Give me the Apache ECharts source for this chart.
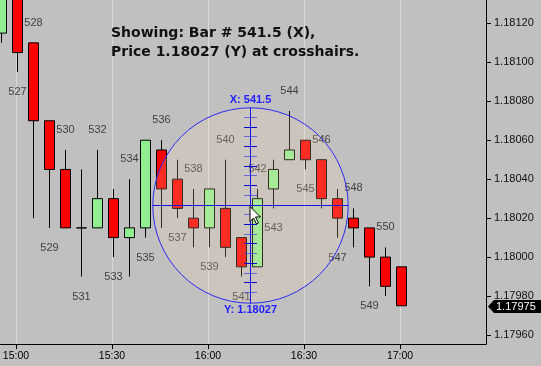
<!DOCTYPE html>
<html>
<head>
<meta charset="utf-8">
<script src="https://cdn.jsdelivr.net/npm/echarts@6/dist/echarts.min.js"></script>
<style>
  html, body { margin: 0; padding: 0; background: #c0c0c0; }
  #chart { width: 541px; height: 366px; }
</style>
</head>
<body>
<div id="chart"></div>
<script>
// ---- data ----
const bars   = [526, 527, 528, 529, 530, 531, 532, 533, 534, 535, 536, 537, 538, 539, 540, 541, 542, 543, 544, 545, 546, 547, 548, 549, 550, 551];
const opens  = [1.18115, 1.18140, 1.18110, 1.18070, 1.18045, 1.18015, 1.18015, 1.18030, 1.18010, 1.18015, 1.18055, 1.18040, 1.18020, 1.18015, 1.18025, 1.18010, 1.17995, 1.18035, 1.18050, 1.18060, 1.18050, 1.18030, 1.18020, 1.18015, 1.18000, 1.17995];
const closes = [1.18140, 1.18105, 1.18070, 1.18045, 1.18015, 1.18015, 1.18030, 1.18010, 1.18015, 1.18060, 1.18035, 1.18025, 1.18015, 1.18035, 1.18005, 1.17995, 1.18030, 1.18045, 1.18055, 1.18050, 1.18030, 1.18020, 1.18015, 1.18000, 1.17985, 1.17975];
const lows   = [1.18110, 1.18095, 1.18020, 1.18015, 1.18015, 1.17990, 1.18015, 1.18000, 1.17990, 1.18010, 1.18015, 1.18020, 1.18005, 1.18005, 1.18000, 1.17990, 1.17995, 1.18025, 1.18050, 1.18045, 1.18025, 1.18010, 1.18005, 1.17985, 1.17980, 1.17975];
const highs  = [1.18145, 1.18145, 1.18110, 1.18070, 1.18055, 1.18045, 1.18055, 1.18035, 1.18040, 1.18060, 1.18060, 1.18050, 1.18035, 1.18035, 1.18050, 1.18010, 1.18035, 1.18050, 1.18075, 1.18060, 1.18050, 1.18035, 1.18025, 1.18015, 1.18005, 1.17995];
const labeledBars = [527, 528, 529, 530, 531, 532, 533, 534, 535, 536, 537, 538, 539, 540, 541, 542, 543, 544, 545, 546, 547, 548, 549, 550];

const timeLabels = ['15:00', '15:30', '16:00', '16:30', '17:00'];
const barAtFirstTime = 526.906;   // bar position of 15:00
const barsPerTimeTick = 6;        // 5-minute bars, 30-minute ticks
const priceTicks = [1.1796, 1.1798, 1.1800, 1.1802, 1.1804, 1.1806, 1.1808, 1.1810, 1.1812];

const crossX = 541.5;
const crossY = 1.18027;
const rulerStep = 0.00005;

// ---- axis ranges ----
const xMin = 525.906, xMax = 556.28;
const yMin = 1.1795538, yMax = 1.181320;

const timeTickBars = timeLabels.map((t, i) => barAtFirstTime + i * barsPerTimeTick);

const candleData = bars.map((b, i) => [b, opens[i], closes[i], lows[i], highs[i]]);
const aboveLabels = [], belowLabels = [];
labeledBars.forEach(b => {
  const i = bars.indexOf(b);
  if (b % 2 === 0) aboveLabels.push([b, highs[i]]);
  else belowLabels.push([b, lows[i]]);
});
const lastPrice = closes[closes.length - 1];

const FONT = '"Liberation Sans", Arial, sans-serif';

const chart = echarts.init(document.getElementById('chart'), null, { renderer: 'canvas' });

function barLabelSeries(data, dy) {
  return {
    type: 'scatter',
    data: data,
    symbolSize: 0.1,
    itemStyle: { color: 'rgba(0,0,0,0)' },
    z: 3,
    silent: true,
    label: {
      show: true,
      position: 'inside',
      offset: [0, dy],
      formatter: p => String(p.value[0]),
      fontFamily: FONT,
      fontSize: 11,
      color: '#1c1c1c'
    }
  };
}

const option = {
  backgroundColor: '#c0c0c0',
  animation: false,
  title: {
    text: 'Showing: Bar # ' + crossX + ' (X),\nPrice ' + crossY.toFixed(5) + ' (Y) at crosshairs.',
    left: 111,
    top: 24,
    padding: 0,
    textStyle: {
      fontFamily: '"DejaVu Sans", Verdana, sans-serif',
      fontWeight: 'bold',
      fontSize: 14,
      lineHeight: 19,
      color: '#111'
    }
  },
  grid: { left: 0, right: 55, top: 0, bottom: 22, containLabel: false, outerBoundsMode: 'none' },
  xAxis: {
    type: 'value',
    min: xMin,
    max: xMax,
    position: 'bottom',
    axisLine: { show: true, onZero: false, lineStyle: { color: '#000', width: 1 } },
    axisTick: { show: true, length: 5, customValues: timeTickBars, lineStyle: { color: '#000' } },
    axisLabel: {
      show: true,
      customValues: timeTickBars,
      margin: 7,
      fontFamily: FONT,
      fontSize: 10.5,
      color: '#000',
      formatter: function (v) {
        let best = 0, bd = Infinity;
        timeTickBars.forEach((t, i) => { const d = Math.abs(t - v); if (d < bd) { bd = d; best = i; } });
        return timeLabels[best];
      }
    },
    splitLine: { show: true, lineStyle: { color: '#d9d9d9', width: 1 } }
  },
  yAxis: {
    type: 'value',
    position: 'right',
    min: yMin,
    max: yMax,
    axisLine: { show: true, onZero: false, lineStyle: { color: '#000', width: 1 } },
    axisTick: { show: true, length: 5, customValues: priceTicks, lineStyle: { color: '#000' } },
    axisLabel: {
      show: true,
      customValues: priceTicks,
      margin: 8,
      fontFamily: FONT,
      fontSize: 11,
      color: '#111',
      formatter: v => v.toFixed(5)
    },
    splitLine: { show: false }
  },
  series: [
    {
      type: 'candlestick',
      data: candleData,
      encode: { x: 0, y: [1, 2, 3, 4] },
      barWidth: 11,
      clip: true,
      z: 2,
      silent: true,
      itemStyle: {
        color: '#90ee90',
        color0: '#ff0000',
        borderColor: '#000',
        borderColor0: '#000',
        borderColorDoji: '#000',
        borderWidth: 1
      }
    },
    barLabelSeries(aboveLabels, -20),
    barLabelSeries(belowLabels, 20),
    {
      type: 'custom',
      data: [[crossX, crossY]],
      z: 10,
      silent: true,
      clip: false,
      renderItem: function (params, api) {
        const c = api.coord([api.value(0), api.value(1)]);
        const cx = Math.round(c[0]) + 0.5, cy = Math.round(c[1]) + 0.5;
        const r = 97.7;
        const blue = '#1414e6';
        const children = [];
        children.push({
          type: 'circle',
          shape: { cx: cx, cy: cy, r: r },
          style: { fill: 'rgba(255,220,180,0.2)', stroke: '#2b2bf0', lineWidth: 1 }
        });
        children.push({ type: 'line', shape: { x1: cx - r, y1: cy, x2: cx + r, y2: cy }, style: { stroke: blue, lineWidth: 1 } });
        children.push({ type: 'line', shape: { x1: cx, y1: cy - r, x2: cx, y2: cy + r }, style: { stroke: blue, lineWidth: 1 } });
        for (let k = 1; k <= 9; k++) {
          [1, -1].forEach(s => {
            const yy = Math.round(api.coord([crossX, crossY + s * k * rulerStep])[1]) + 0.5;
            children.push({
              type: 'line',
              shape: { x1: cx - 6.5, y1: yy, x2: cx + 6.5, y2: yy },
              style: { stroke: (k % 2 === 0) ? '#0000d8' : 'rgba(70,70,235,0.75)', lineWidth: 1 }
            });
          });
        }
        children.push({
          type: 'text',
          style: { text: 'X: ' + crossX, x: cx, y: cy - r - 8, align: 'center', verticalAlign: 'middle',
                   font: 'bold 11px ' + FONT, fill: '#2020ff' }
        });
        children.push({
          type: 'text',
          style: { text: 'Y: ' + crossY.toFixed(5), x: cx, y: cy + r + 7, align: 'center', verticalAlign: 'middle',
                   font: 'bold 11px ' + FONT, fill: '#2020ff' }
        });
        // mouse pointer
        const tx = cx - 0.5, ty = cy + 1;
        const arrow = [[0, 0], [0, 15], [3.5, 11.5], [6.5, 17.5], [8.5, 16.5], [5.5, 10.5], [10.5, 10.5]];
        children.push({
          type: 'polygon',
          shape: { points: arrow.map(p => [tx + p[0], ty + p[1]]) },
          style: { fill: '#fff', stroke: '#000', lineWidth: 1 }
        });
        // last price marker on the axis
        const lp = api.coord([xMax, lastPrice]);
        const ax = lp[0], ay = Math.round(lp[1]) + 0.5;
        children.push({
          type: 'polygon',
          shape: { points: [[ax + 2, ay], [ax + 8, ay - 6.5], [541, ay - 6.5], [541, ay + 6.5], [ax + 8, ay + 6.5]] },
          style: { fill: '#000' }
        });
        children.push({
          type: 'text',
          style: { text: lastPrice.toFixed(5), x: ax + 10, y: ay, align: 'left', verticalAlign: 'middle',
                   font: '11px ' + FONT, fill: '#fff' }
        });
        return { type: 'group', children: children };
      }
    }
  ]
};

chart.setOption(option);
</script>
</body>
</html>
